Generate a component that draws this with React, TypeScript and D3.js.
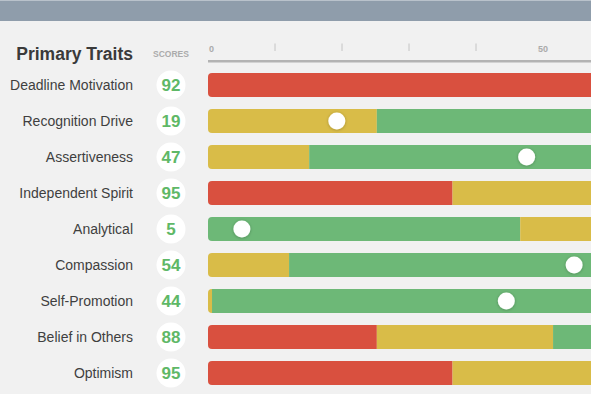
import React from 'react';
import * as d3 from 'd3';

// trait names, top to bottom
const traits = [
  'Deadline Motivation',
  'Recognition Drive',
  'Assertiveness',
  'Independent Spirit',
  'Analytical',
  'Compassion',
  'Self-Promotion',
  'Belief in Others',
  'Optimism',
];

const scores = [92, 19, 47, 95, 5, 54, 44, 88, 95];

// zone bands per trait: [zone, from, to]
const bands: [string, number, number][][] = [
  [['red', 0, 75], ['yellow', 75, 100]],
  [['yellow', 0, 25.2], ['green', 25.2, 100]],
  [['yellow', 0, 15.1], ['green', 15.1, 100]],
  [['red', 0, 36.5], ['yellow', 36.5, 100]],
  [['green', 0, 46.6], ['yellow', 46.6, 100]],
  [['yellow', 0, 12.1], ['green', 12.1, 100]],
  [['yellow', 0, 0.6], ['green', 0.6, 100]],
  [['red', 0, 25.2], ['yellow', 25.2, 51.5], ['green', 51.5, 100]],
  [['red', 0, 36.5], ['yellow', 36.5, 100]],
];

const tickValues = [0, 10, 20, 30, 40, 50, 60, 70, 80];
const labeledTicks = [0, 50];

const zoneColor: Record<string, string> = {
  red: '#d9503f',
  yellow: '#d9bc48',
  green: '#6db877',
};

const font = '"Helvetica Neue", Helvetica, "Liberation Sans", Arial, sans-serif';

const App = () => {
  const width = 591;
  const height = 394;

  const x = d3.scaleLinear().domain([0, 100]).range([208, 878]);
  // score dots sit on a slightly wider track than the ruler
  const xDot = d3.scaleLinear().domain([0, 100]).range([208, 886]);
  const y = d3.scaleBand<string>()
    .domain(traits)
    .range([73, 385])
    .paddingInner(1 / 3)
    .paddingOuter(0);

  const labelX = 133;
  const scoreX = 171;

  return (
    <svg
      width={width}
      height={height}
      style={{ position: 'absolute', left: 0, top: 0, background: '#f1f1f1', overflow: 'hidden' }}
      fontFamily={font}
    >
      <defs>
        <filter id="dotShadow" x="-50%" y="-50%" width="200%" height="200%">
          <feDropShadow dx="0" dy="0.5" stdDeviation="1.5" floodColor="#000" floodOpacity="0.28" />
        </filter>
        {traits.map((t, i) => (
          <clipPath id={`barClip${i}`} key={t}>
            <rect x={x(0)} y={y(t)} width={x(100) - x(0)} height={y.bandwidth()} rx={4} />
          </clipPath>
        ))}
      </defs>

      {/* top banner */}
      <rect x={0} y={0} width={width} height={21} fill="#8f9dab" />
      <rect x={0} y={0} width={width} height={1} fill="#b9c2cb" />

      {/* header */}
      <text x={labelX} y={60} textAnchor="end" fontSize={17.5} fontWeight="bold" fill="#3a3a3a">
        Primary Traits
      </text>
      <text x={scoreX} y={56.5} textAnchor="middle" fontSize={8.5} fontWeight="bold" fill="#ababab">
        SCORES
      </text>

      {/* axis */}
      <rect x={x(0)} y={60} width={width - x(0)} height={2.5} fill="#b3b3b3" />
      {tickValues.map((v) =>
        labeledTicks.includes(v) ? (
          <text
            key={v}
            x={v === 0 ? x(v) + 1 : x(v)}
            y={52}
            textAnchor={v === 0 ? 'start' : 'middle'}
            fontSize={9}
            fontWeight="bold"
            fill="#ababab"
          >
            {v}
          </text>
        ) : (
          <line key={v} x1={x(v)} x2={x(v)} y1={43.5} y2={51} stroke="#c4c4c4" strokeWidth={1} />
        )
      )}

      {traits.map((t, i) => {
        const top = y(t) as number;
        const cy = top + y.bandwidth() / 2;
        return (
          <g key={t}>
            <text x={labelX} y={cy} dy="0.35em" textAnchor="end" fontSize={14} fill="#3f3f3f">
              {t}
            </text>
            <circle cx={scoreX} cy={cy} r={14.5} fill="#fff" />
            <text
              x={scoreX}
              y={cy}
              dy="0.36em"
              textAnchor="middle"
              fontSize={17}
              fontWeight="bold"
              fill="#5fb867"
            >
              {scores[i]}
            </text>
            <g clipPath={`url(#barClip${i})`}>
              {bands[i].map(([zone, from, to]) => (
                <rect
                  key={zone + from}
                  x={x(from)}
                  y={top}
                  width={x(to) - x(from)}
                  height={y.bandwidth()}
                  fill={zoneColor[zone]}
                />
              ))}
            </g>
            <circle cx={xDot(scores[i])} cy={cy} r={8.5} fill="#fff" filter="url(#dotShadow)" />
          </g>
        );
      })}
    </svg>
  );
};

export default App;
